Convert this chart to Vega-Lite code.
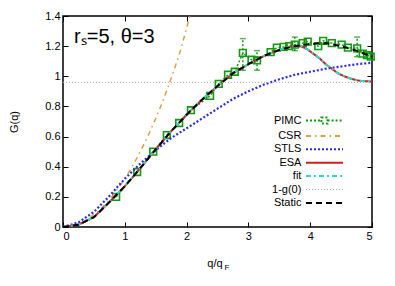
{
  "$schema": "https://vega.github.io/schema/vega-lite/v6.json",
  "width": 309,
  "height": 211,
  "autosize": {"type": "none"},
  "padding": {"left": 63, "top": 16, "right": 23, "bottom": 59},
  "background": "white",
  "config": {
    "view": {"stroke": "black", "strokeWidth": 1.5},
    "font": "Liberation Sans",
    "axis": {"grid": false, "domain": false, "tickColor": "black", "tickSize": -5, "tickWidth": 1, "labelFont": "Liberation Sans", "labelFontSize": 11, "labelColor": "black", "titleFont": "Liberation Sans", "titleFontSize": 11, "titleFontWeight": "normal", "titleColor": "black"},
    "legend": {"orient": "none", "legendX": 226, "legendY": 99, "labelAlign": "right", "labelOffset": -28.6, "symbolOffset": 30, "symbolSize": 152, "symbolType": "M-3,0H3", "symbolStrokeWidth": 2, "labelFont": "Liberation Sans", "labelFontSize": 11, "labelColor": "black", "rowPadding": 1.4, "padding": 0, "title": null}
  },
  "resolve": {"axis": {"x": "independent", "y": "independent"}},
  "datasets": {
    "pimc": [
      {"series": "PIMC", "q": 0.86, "G": 0.20},
      {"series": "PIMC", "q": 1.20, "G": 0.365},
      {"series": "PIMC", "q": 1.46, "G": 0.50},
      {"series": "PIMC", "q": 1.68, "G": 0.61},
      {"series": "PIMC", "q": 1.88, "G": 0.69},
      {"series": "PIMC", "q": 2.07, "G": 0.775},
      {"series": "PIMC", "q": 2.38, "G": 0.87},
      {"series": "PIMC", "q": 2.52, "G": 0.95},
      {"series": "PIMC", "q": 2.67, "G": 1.01},
      {"series": "PIMC", "q": 2.78, "G": 1.03},
      {"series": "PIMC", "q": 2.91, "G": 1.155, "lo": 1.04, "hi": 1.25},
      {"series": "PIMC", "q": 3.05, "G": 1.11},
      {"series": "PIMC", "q": 3.14, "G": 1.105, "lo": 1.04, "hi": 1.17},
      {"series": "PIMC", "q": 3.36, "G": 1.16},
      {"series": "PIMC", "q": 3.46, "G": 1.19},
      {"series": "PIMC", "q": 3.57, "G": 1.195},
      {"series": "PIMC", "q": 3.66, "G": 1.20},
      {"series": "PIMC", "q": 3.75, "G": 1.21, "lo": 1.17, "hi": 1.26},
      {"series": "PIMC", "q": 3.88, "G": 1.22},
      {"series": "PIMC", "q": 3.96, "G": 1.23},
      {"series": "PIMC", "q": 4.13, "G": 1.20},
      {"series": "PIMC", "q": 4.21, "G": 1.235},
      {"series": "PIMC", "q": 4.35, "G": 1.22},
      {"series": "PIMC", "q": 4.51, "G": 1.21},
      {"series": "PIMC", "q": 4.61, "G": 1.19},
      {"series": "PIMC", "q": 4.76, "G": 1.185, "lo": 1.13, "hi": 1.26},
      {"series": "PIMC", "q": 4.85, "G": 1.15},
      {"series": "PIMC", "q": 4.92, "G": 1.14},
      {"series": "PIMC", "q": 4.98, "G": 1.13}
    ],
    "curves": [
      {"series": "CSR", "q": 0, "G": 0}, {"series": "CSR", "q": 0.2, "G": 0.013}, {"series": "CSR", "q": 0.4, "G": 0.051}, {"series": "CSR", "q": 0.6, "G": 0.115}, {"series": "CSR", "q": 0.8, "G": 0.205}, {"series": "CSR", "q": 1.0, "G": 0.32}, {"series": "CSR", "q": 1.1, "G": 0.387}, {"series": "CSR", "q": 1.2, "G": 0.461}, {"series": "CSR", "q": 1.3, "G": 0.541}, {"series": "CSR", "q": 1.4, "G": 0.627}, {"series": "CSR", "q": 1.5, "G": 0.72}, {"series": "CSR", "q": 1.6, "G": 0.819}, {"series": "CSR", "q": 1.7, "G": 0.93}, {"series": "CSR", "q": 1.8, "G": 1.045}, {"series": "CSR", "q": 1.9, "G": 1.17}, {"series": "CSR", "q": 2.0, "G": 1.32}, {"series": "CSR", "q": 2.06, "G": 1.41},
      {"series": "STLS", "q": 0, "G": 0}, {"series": "STLS", "q": 0.25, "G": 0.03}, {"series": "STLS", "q": 0.5, "G": 0.1}, {"series": "STLS", "q": 0.75, "G": 0.205}, {"series": "STLS", "q": 1.0, "G": 0.32}, {"series": "STLS", "q": 1.25, "G": 0.42}, {"series": "STLS", "q": 1.5, "G": 0.51}, {"series": "STLS", "q": 1.75, "G": 0.59}, {"series": "STLS", "q": 2.0, "G": 0.655}, {"series": "STLS", "q": 2.25, "G": 0.72}, {"series": "STLS", "q": 2.5, "G": 0.785}, {"series": "STLS", "q": 2.75, "G": 0.85}, {"series": "STLS", "q": 3.0, "G": 0.9}, {"series": "STLS", "q": 3.25, "G": 0.945}, {"series": "STLS", "q": 3.5, "G": 0.98}, {"series": "STLS", "q": 3.75, "G": 1.01}, {"series": "STLS", "q": 4.0, "G": 1.03}, {"series": "STLS", "q": 4.25, "G": 1.05}, {"series": "STLS", "q": 4.5, "G": 1.065}, {"series": "STLS", "q": 4.75, "G": 1.08}, {"series": "STLS", "q": 5.0, "G": 1.09},
      {"series": "ESA", "q": 0, "G": 0}, {"series": "ESA", "q": 0.25, "G": 0.015}, {"series": "ESA", "q": 0.5, "G": 0.065}, {"series": "ESA", "q": 0.75, "G": 0.165}, {"series": "ESA", "q": 1.0, "G": 0.27}, {"series": "ESA", "q": 1.25, "G": 0.39}, {"series": "ESA", "q": 1.5, "G": 0.515}, {"series": "ESA", "q": 1.75, "G": 0.635}, {"series": "ESA", "q": 2.0, "G": 0.745}, {"series": "ESA", "q": 2.25, "G": 0.845}, {"series": "ESA", "q": 2.5, "G": 0.935}, {"series": "ESA", "q": 2.75, "G": 1.02}, {"series": "ESA", "q": 3.0, "G": 1.08}, {"series": "ESA", "q": 3.25, "G": 1.135}, {"series": "ESA", "q": 3.5, "G": 1.175}, {"series": "ESA", "q": 3.7, "G": 1.2}, {"series": "ESA", "q": 3.85, "G": 1.2}, {"series": "ESA", "q": 3.95, "G": 1.18}, {"series": "ESA", "q": 4.05, "G": 1.15}, {"series": "ESA", "q": 4.15, "G": 1.12}, {"series": "ESA", "q": 4.25, "G": 1.08}, {"series": "ESA", "q": 4.35, "G": 1.05}, {"series": "ESA", "q": 4.45, "G": 1.02}, {"series": "ESA", "q": 4.55, "G": 1.0}, {"series": "ESA", "q": 4.65, "G": 0.985}, {"series": "ESA", "q": 4.8, "G": 0.97}, {"series": "ESA", "q": 5.0, "G": 0.965},
      {"series": "fit", "q": 0, "G": 0}, {"series": "fit", "q": 0.25, "G": 0.015}, {"series": "fit", "q": 0.5, "G": 0.066}, {"series": "fit", "q": 0.75, "G": 0.166}, {"series": "fit", "q": 1.0, "G": 0.272}, {"series": "fit", "q": 1.25, "G": 0.392}, {"series": "fit", "q": 1.5, "G": 0.516}, {"series": "fit", "q": 1.75, "G": 0.636}, {"series": "fit", "q": 2.0, "G": 0.746}, {"series": "fit", "q": 2.25, "G": 0.846}, {"series": "fit", "q": 2.5, "G": 0.936}, {"series": "fit", "q": 2.75, "G": 1.02}, {"series": "fit", "q": 3.0, "G": 1.08}, {"series": "fit", "q": 3.25, "G": 1.135}, {"series": "fit", "q": 3.5, "G": 1.175}, {"series": "fit", "q": 3.7, "G": 1.2}, {"series": "fit", "q": 3.85, "G": 1.2}, {"series": "fit", "q": 3.95, "G": 1.18}, {"series": "fit", "q": 4.05, "G": 1.15}, {"series": "fit", "q": 4.15, "G": 1.12}, {"series": "fit", "q": 4.25, "G": 1.08}, {"series": "fit", "q": 4.35, "G": 1.05}, {"series": "fit", "q": 4.45, "G": 1.02}, {"series": "fit", "q": 4.55, "G": 1.0}, {"series": "fit", "q": 4.65, "G": 0.985}, {"series": "fit", "q": 4.8, "G": 0.97}, {"series": "fit", "q": 5.0, "G": 0.965},
      {"series": "1-g(0)", "q": 0, "G": 0.96}, {"series": "1-g(0)", "q": 5, "G": 0.96},
      {"series": "Static", "q": 0, "G": 0}, {"series": "Static", "q": 0.25, "G": 0.015}, {"series": "Static", "q": 0.5, "G": 0.065}, {"series": "Static", "q": 0.75, "G": 0.165}, {"series": "Static", "q": 1.0, "G": 0.27}, {"series": "Static", "q": 1.25, "G": 0.39}, {"series": "Static", "q": 1.5, "G": 0.515}, {"series": "Static", "q": 1.75, "G": 0.635}, {"series": "Static", "q": 2.0, "G": 0.745}, {"series": "Static", "q": 2.25, "G": 0.845}, {"series": "Static", "q": 2.5, "G": 0.935}, {"series": "Static", "q": 2.75, "G": 1.02}, {"series": "Static", "q": 3.0, "G": 1.08}, {"series": "Static", "q": 3.25, "G": 1.135}, {"series": "Static", "q": 3.5, "G": 1.175}, {"series": "Static", "q": 3.75, "G": 1.2}, {"series": "Static", "q": 4.0, "G": 1.215}, {"series": "Static", "q": 4.25, "G": 1.22}, {"series": "Static", "q": 4.5, "G": 1.2}, {"series": "Static", "q": 4.75, "G": 1.17}, {"series": "Static", "q": 5.0, "G": 1.13}
    ]
  },
  "layer": [
    {
      "data": {"name": "pimc"},
      "mark": {"type": "line", "strokeWidth": 1.5, "clip": true},
      "encoding": {
        "x": {"field": "q", "type": "quantitative", "scale": {"domain": [0, 5], "nice": false, "zero": false},
              "axis": {"orient": "bottom", "values": [0, 1, 2, 3, 4, 5], "format": "d", "labelPadding": 8, "title": "q/q", "titleX": 151.5, "titleY": 39, "titleBaseline": "alphabetic", "titleAlign": "center"}},
        "y": {"field": "G", "type": "quantitative", "scale": {"domain": [0, 1.4], "nice": false, "zero": false},
              "axis": {"orient": "left", "values": [0, 0.2, 0.4, 0.6, 0.8, 1, 1.2, 1.4], "format": "~g", "labelPadding": 8, "title": "G(q)", "titleX": -49, "titleY": 105.5, "titleAngle": -90, "titleAlign": "center", "titleBaseline": "middle"}},
        "color": {"field": "series", "type": "nominal", "scale": {"domain": ["PIMC", "CSR", "STLS", "ESA", "fit", "1-g(0)", "Static"], "range": ["#119a11", "#e0a040", "#2a2af0", "#dd1a1a", "#20e0c8", "#a8a8a8", "#000000"]},
                  "legend": {"encode": {"symbols": {"update": {"shape": {"signal": "datum.value === 'PIMC' ? 'M-3,0H-0.5M0.5,0H3M-0.5,-0.5H0.5V0.5H-0.5Z' : 'M-3,0H3'"}, "fill": {"value": "transparent"}, "strokeWidth": {"signal": "datum.value === '1-g(0)' ? 1 : 2"}}}}}},
        "strokeDash": {"field": "series", "type": "nominal", "scale": {"domain": ["PIMC", "CSR", "STLS", "ESA", "fit", "1-g(0)", "Static"], "range": [[2, 2], [5, 4, 1.5, 4], [2, 2], [1, 0], [5, 3, 2, 3], [1, 2], [6, 4]]}}
      }
    },
    {
      "data": {"name": "pimc"},
      "transform": [{"filter": "isValid(datum.lo)"}],
      "mark": {"type": "rule", "color": "#119a11", "strokeWidth": 1.5, "strokeDash": [2, 2]},
      "encoding": {
        "x": {"field": "q", "type": "quantitative", "axis": null},
        "y": {"field": "lo", "type": "quantitative", "axis": null},
        "y2": {"field": "hi"}
      }
    },
    {
      "data": {"name": "pimc"},
      "transform": [{"filter": "isValid(datum.lo)"}],
      "mark": {"type": "point", "shape": "M-1,0H1", "size": 36, "color": "#119a11", "strokeWidth": 1.5, "filled": false},
      "encoding": {
        "x": {"field": "q", "type": "quantitative", "axis": null},
        "y": {"field": "lo", "type": "quantitative", "axis": null}
      }
    },
    {
      "data": {"name": "pimc"},
      "transform": [{"filter": "isValid(datum.hi)"}],
      "mark": {"type": "point", "shape": "M-1,0H1", "size": 36, "color": "#119a11", "strokeWidth": 1.5, "filled": false},
      "encoding": {
        "x": {"field": "q", "type": "quantitative", "axis": null},
        "y": {"field": "hi", "type": "quantitative", "axis": null}
      }
    },
    {
      "data": {"name": "pimc"},
      "mark": {"type": "point", "shape": "square", "size": 45, "color": "#119a11", "strokeWidth": 1.6, "filled": false, "opacity": 1},
      "encoding": {
        "x": {"field": "q", "type": "quantitative", "axis": null},
        "y": {"field": "G", "type": "quantitative", "axis": null}
      }
    },
    {
      "data": {"name": "curves"},
      "transform": [{"filter": "datum.series === 'CSR'"}],
      "mark": {"type": "line", "strokeWidth": 1.5, "clip": true},
      "encoding": {
        "x": {"field": "q", "type": "quantitative", "axis": {"orient": "top", "values": [0, 1, 2, 3, 4, 5], "labels": false, "title": "F", "titleFontSize": 8, "titleX": 161, "titleY": 253, "titleAlign": "left", "titleBaseline": "alphabetic"}},
        "y": {"field": "G", "type": "quantitative", "axis": {"orient": "right", "values": [0, 0.2, 0.4, 0.6, 0.8, 1, 1.2, 1.4], "labels": false, "title": null}},
        "color": {"field": "series", "type": "nominal"},
        "strokeDash": {"field": "series", "type": "nominal"}
      }
    },
    {
      "data": {"name": "curves"},
      "transform": [{"filter": "datum.series === 'STLS'"}],
      "mark": {"type": "line", "strokeWidth": 2.2, "clip": true},
      "encoding": {
        "x": {"field": "q", "type": "quantitative", "axis": null},
        "y": {"field": "G", "type": "quantitative", "axis": null},
        "color": {"field": "series", "type": "nominal"},
        "strokeDash": {"field": "series", "type": "nominal"}
      }
    },
    {
      "data": {"name": "curves"},
      "transform": [{"filter": "datum.series === 'ESA'"}],
      "mark": {"type": "line", "strokeWidth": 2, "clip": true},
      "encoding": {
        "x": {"field": "q", "type": "quantitative", "axis": null},
        "y": {"field": "G", "type": "quantitative", "axis": null},
        "color": {"field": "series", "type": "nominal"},
        "strokeDash": {"field": "series", "type": "nominal"}
      }
    },
    {
      "data": {"name": "curves"},
      "transform": [{"filter": "datum.series === 'fit'"}],
      "mark": {"type": "line", "strokeWidth": 2, "clip": true},
      "encoding": {
        "x": {"field": "q", "type": "quantitative", "axis": null},
        "y": {"field": "G", "type": "quantitative", "axis": null},
        "color": {"field": "series", "type": "nominal"},
        "strokeDash": {"field": "series", "type": "nominal"}
      }
    },
    {
      "data": {"name": "curves"},
      "transform": [{"filter": "datum.series === '1-g(0)'"}],
      "mark": {"type": "line", "strokeWidth": 1, "clip": true},
      "encoding": {
        "x": {"field": "q", "type": "quantitative", "axis": null},
        "y": {"field": "G", "type": "quantitative", "axis": null},
        "color": {"field": "series", "type": "nominal"},
        "strokeDash": {"field": "series", "type": "nominal"}
      }
    },
    {
      "data": {"name": "curves"},
      "transform": [{"filter": "datum.series === 'Static'"}],
      "mark": {"type": "line", "strokeWidth": 2, "clip": true},
      "encoding": {
        "x": {"field": "q", "type": "quantitative", "axis": null},
        "y": {"field": "G", "type": "quantitative", "axis": null},
        "color": {"field": "series", "type": "nominal"},
        "strokeDash": {"field": "series", "type": "nominal"}
      }
    },
    {
      "data": {"values": [{"label": "rₛ=5, θ=3"}]},
      "mark": {"type": "text", "align": "left", "baseline": "alphabetic", "font": "Liberation Sans", "fontSize": 20, "color": "black"},
      "encoding": {
        "x": {"datum": 0.18, "type": "quantitative", "axis": null},
        "y": {"datum": 1.221, "type": "quantitative", "axis": null},
        "text": {"field": "label"}
      }
    }
  ]
}
